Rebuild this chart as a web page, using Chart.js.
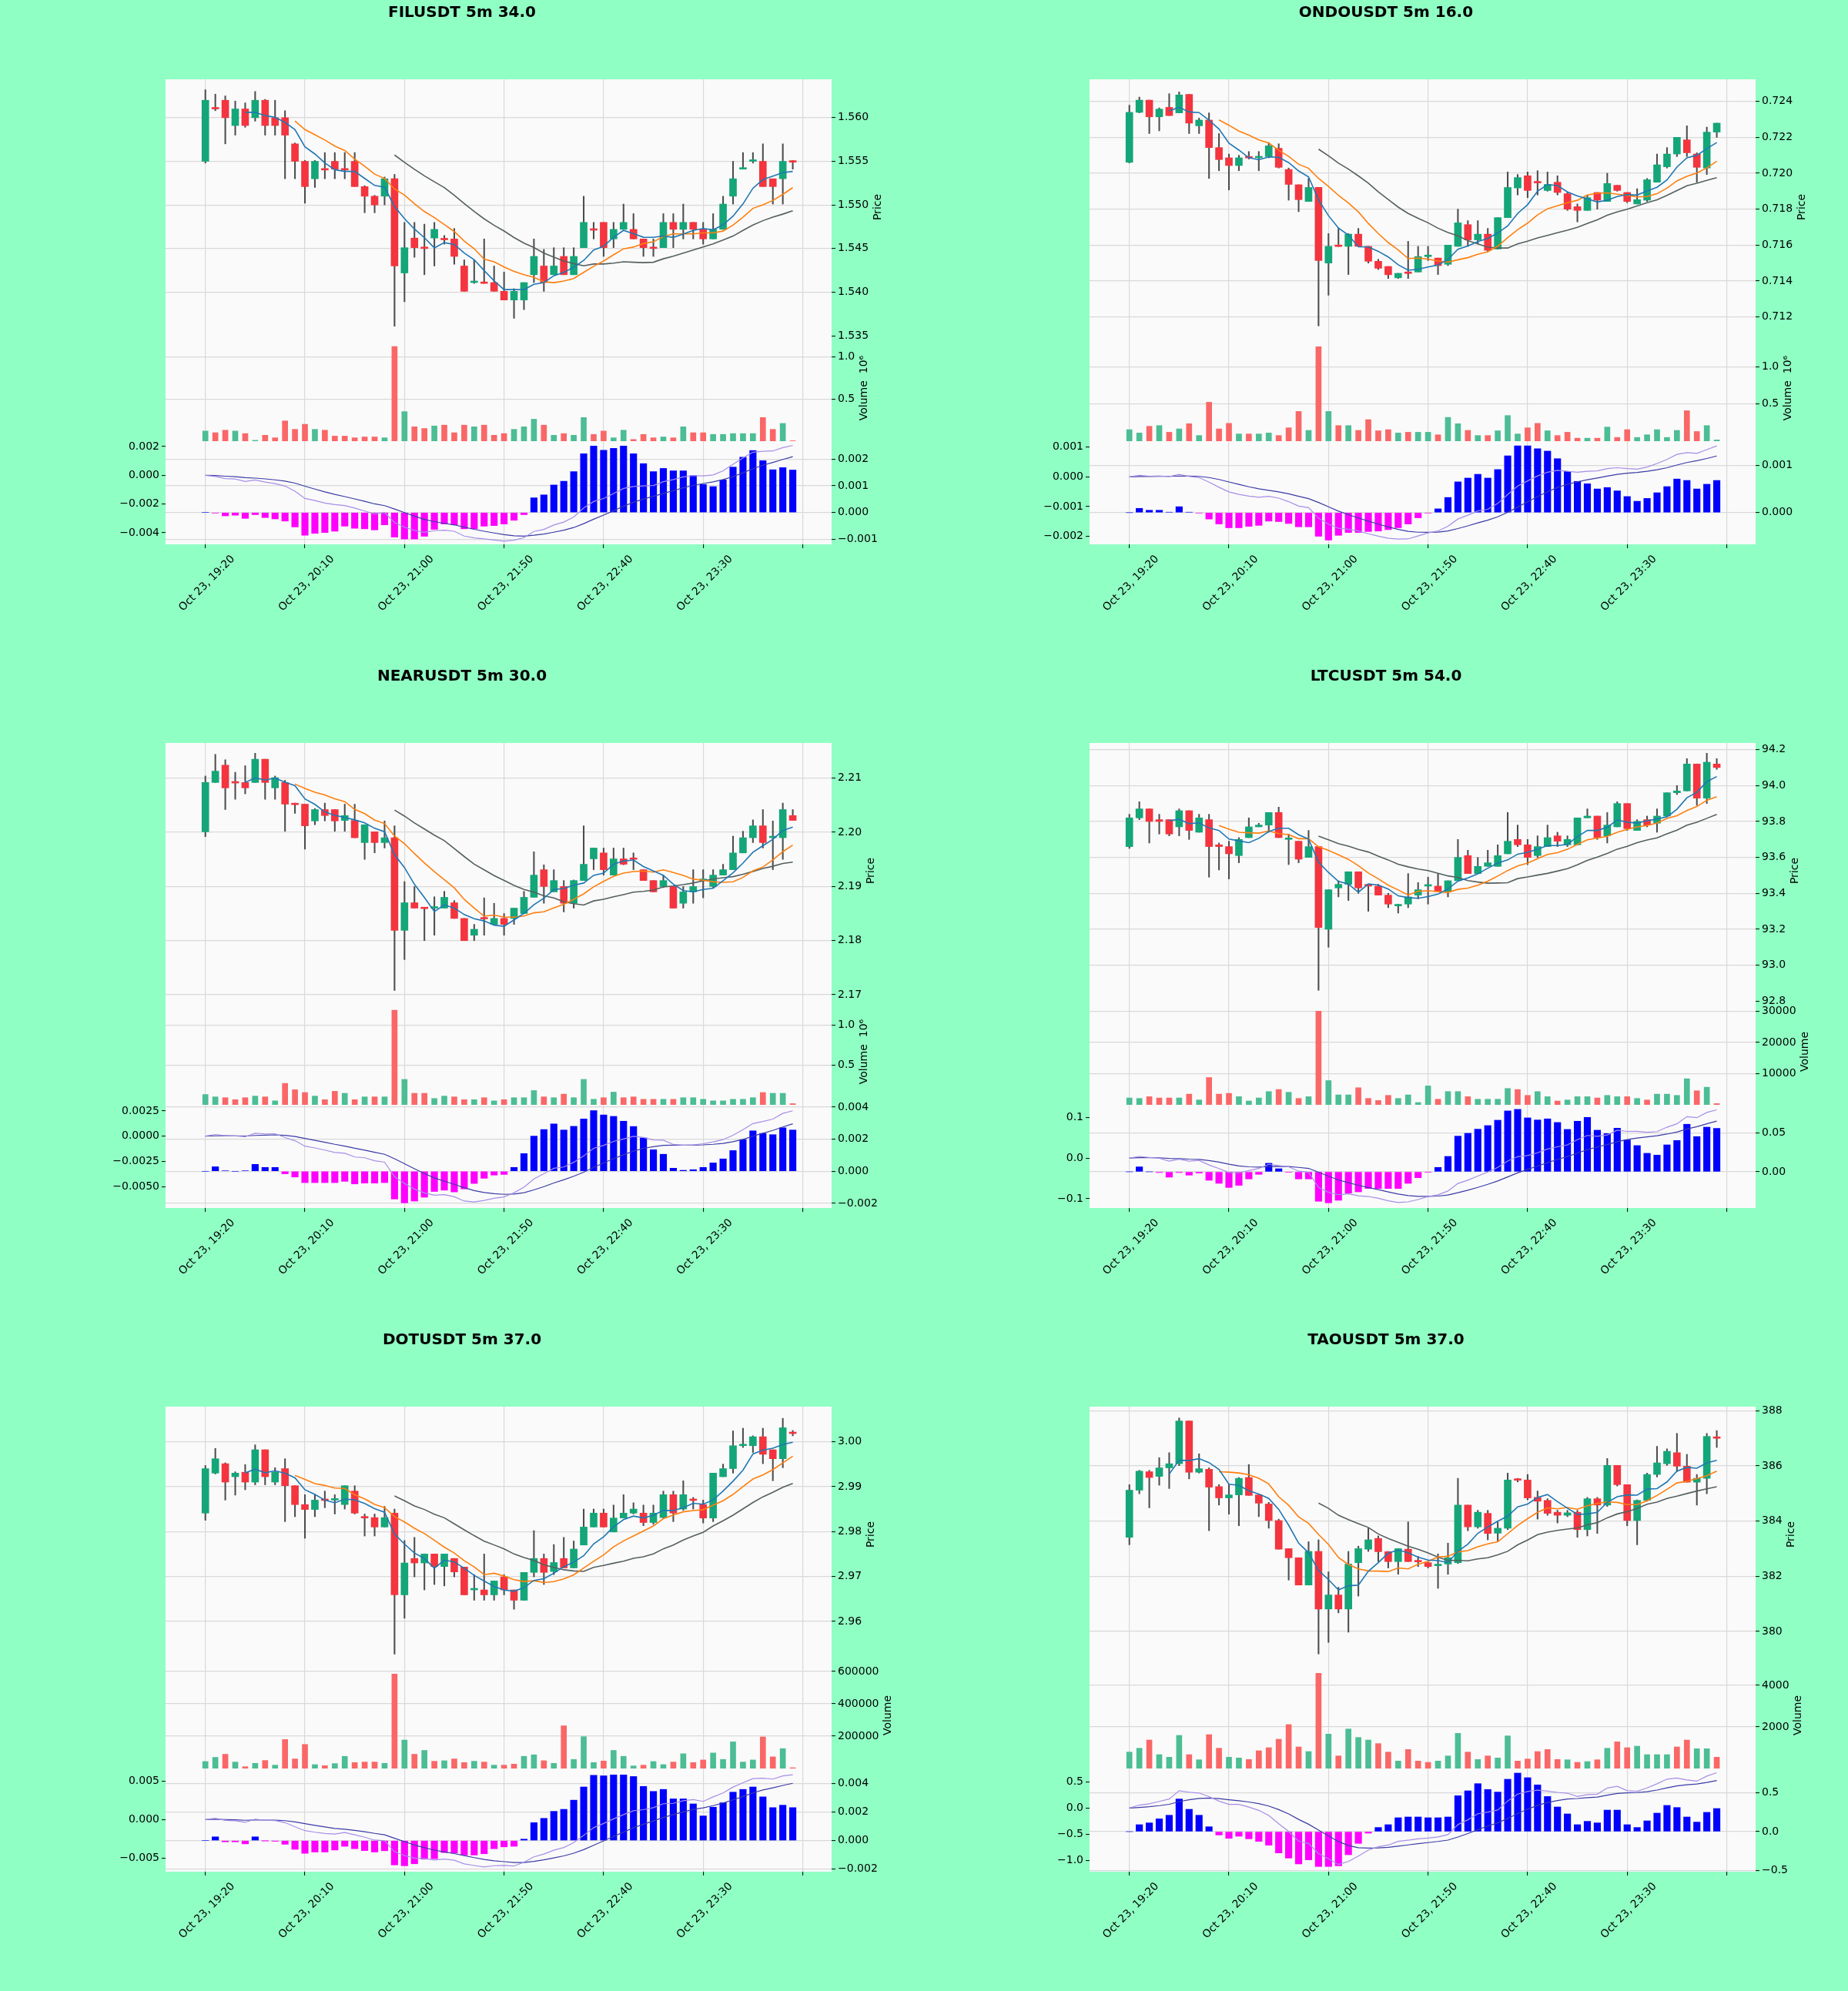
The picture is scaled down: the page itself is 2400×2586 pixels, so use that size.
<!DOCTYPE html>
<html>
<head>
<meta charset="utf-8">
<title>5m candles</title>
<script src="https://cdn.jsdelivr.net/npm/chart.js@4.4.1/dist/chart.umd.min.js"></script>
<style>
  html, body { margin: 0; padding: 0; background: #90ffc4; }
  #page { position: relative; width: 2400px; height: 2586px; overflow: hidden; background: #90ffc4; }
  #page canvas { position: absolute; }
</style>
</head>
<body>
<div id="page"></div>
<script>
const xTicks = [0, 10, 20, 30, 40, 50, 60];
const xTickLabels = ["Oct 23, 19:20", "Oct 23, 20:10", "Oct 23, 21:00", "Oct 23, 21:50", "Oct 23, 22:40", "Oct 23, 23:30", ""];

// FILUSDT
const filOpen = [1.5550,1.5611,1.5620,1.5591,1.5610,1.5600,1.5620,1.5600,1.5600,1.5570,1.5550,1.5530,1.5541,1.5550,1.5541,1.5550,1.5521,1.5510,1.5510,1.5530,1.5422,1.5462,1.5451,1.5462,1.5461,1.5461,1.5430,1.5411,1.5411,1.5411,1.5401,1.5391,1.5391,1.5420,1.5430,1.5420,1.5441,1.5420,1.5451,1.5472,1.5480,1.5461,1.5472,1.5472,1.5461,1.5451,1.5451,1.5480,1.5472,1.5480,1.5472,1.5461,1.5472,1.5510,1.5541,1.5550,1.5550,1.5530,1.5530,1.5550];
const filHigh = [1.5632,1.5627,1.5625,1.5619,1.5617,1.5630,1.5621,1.5620,1.5608,1.5571,1.5551,1.5551,1.5560,1.5560,1.5560,1.5560,1.5522,1.5511,1.5532,1.5535,1.5480,1.5480,1.5478,1.5480,1.5465,1.5473,1.5437,1.5437,1.5461,1.5430,1.5423,1.5404,1.5411,1.5461,1.5449,1.5451,1.5451,1.5451,1.5510,1.5480,1.5480,1.5480,1.5501,1.5490,1.5461,1.5461,1.5490,1.5490,1.5501,1.5480,1.5480,1.5490,1.5510,1.5550,1.5560,1.5560,1.5570,1.5530,1.5570,1.5551];
const filLow = [1.5548,1.5608,1.5570,1.5580,1.5589,1.5596,1.5580,1.5580,1.5530,1.5530,1.5502,1.5520,1.5530,1.5530,1.5530,1.5521,1.5491,1.5491,1.5500,1.5361,1.5389,1.5440,1.5420,1.5430,1.5455,1.5432,1.5401,1.5410,1.5410,1.5401,1.5391,1.5370,1.5380,1.5411,1.5401,1.5420,1.5420,1.5420,1.5451,1.5461,1.5441,1.5451,1.5472,1.5461,1.5441,1.5441,1.5451,1.5451,1.5461,1.5461,1.5455,1.5461,1.5472,1.5501,1.5541,1.5548,1.5521,1.5501,1.5501,1.5541];
const filClose = [1.5620,1.5610,1.5600,1.5610,1.5591,1.5620,1.5591,1.5591,1.5580,1.5550,1.5521,1.5550,1.5540,1.5541,1.5540,1.5521,1.5510,1.5500,1.5530,1.5430,1.5451,1.5451,1.5450,1.5472,1.5460,1.5441,1.5401,1.5412,1.5410,1.5401,1.5391,1.5401,1.5411,1.5441,1.5411,1.5430,1.5420,1.5441,1.5480,1.5471,1.5451,1.5472,1.5480,1.5461,1.5451,1.5450,1.5480,1.5472,1.5480,1.5472,1.5461,1.5472,1.5501,1.5530,1.5542,1.5551,1.5521,1.5521,1.5550,1.5549];
const filVolume = [120000,100000,130000,120000,90000,10000,70000,40000,240000,140000,200000,140000,130000,60000,60000,40000,50000,50000,40000,1120000,350000,170000,150000,180000,190000,100000,190000,170000,190000,70000,90000,140000,170000,260000,190000,70000,90000,70000,280000,80000,120000,40000,130000,20000,80000,40000,50000,40000,170000,100000,100000,80000,80000,90000,90000,90000,280000,140000,210000,5000];
const filHist = [0,-0.00002,-0.000125,-0.0001,-0.00022,-0.00008,-0.00019,-0.00024,-0.00032,-0.00054,-0.00085,-0.00078,-0.00075,-0.0007,-0.00051,-0.00059,-0.00061,-0.00065,-0.00046,-0.00092,-0.00099,-0.00099,-0.00089,-0.00063,-0.00043,-0.00046,-0.00061,-0.00061,-0.00051,-0.00049,-0.00043,-0.00029,-0.00008,0.00055,0.00066,0.00103,0.00117,0.00153,0.0022,0.00249,0.00233,0.0024,0.00249,0.0022,0.00183,0.00153,0.00165,0.00156,0.00156,0.00138,0.00105,0.00097,0.00122,0.0017,0.00207,0.00232,0.00194,0.0016,0.00168,0.00159];

// ONDOUSDT
const ondoOpen = [0.72061,0.72339,0.72407,0.72314,0.72367,0.72336,0.72439,0.72264,0.72296,0.72143,0.72086,0.72043,0.72086,0.72086,0.72093,0.72139,0.72021,0.71936,0.71843,0.71921,0.71500,0.71593,0.71593,0.71661,0.71593,0.71510,0.71481,0.71418,0.71443,0.71450,0.71536,0.71528,0.71493,0.71593,0.71714,0.71629,0.71661,0.71578,0.71753,0.71918,0.71986,0.71947,0.71904,0.71950,0.71886,0.71814,0.71793,0.71893,0.71843,0.71933,0.71893,0.71829,0.71850,0.71950,0.72036,0.72107,0.72186,0.72107,0.72029,0.72229];
const ondoHigh = [0.72379,0.72424,0.72407,0.72364,0.72443,0.72453,0.72439,0.72307,0.72336,0.72221,0.72107,0.72100,0.72121,0.72121,0.72171,0.72164,0.72029,0.71936,0.71971,0.71921,0.71664,0.71693,0.71664,0.71693,0.71593,0.71521,0.71481,0.71443,0.71621,0.71593,0.71593,0.71528,0.71600,0.71800,0.71736,0.71736,0.71693,0.71753,0.72007,0.71993,0.72007,0.72014,0.72007,0.71986,0.71893,0.71829,0.71879,0.71893,0.72000,0.71933,0.71893,0.71914,0.71971,0.72107,0.72143,0.72200,0.72264,0.72114,0.72257,0.72279];
const ondoLow = [0.72057,0.72336,0.72221,0.72236,0.72321,0.72336,0.72221,0.72221,0.71971,0.72014,0.71907,0.72014,0.72079,0.72014,0.72086,0.72029,0.71850,0.71786,0.71843,0.71150,0.71321,0.71593,0.71436,0.71593,0.71500,0.71464,0.71414,0.71414,0.71414,0.71450,0.71514,0.71436,0.71486,0.71593,0.71593,0.71607,0.71564,0.71578,0.71753,0.71879,0.71864,0.71879,0.71900,0.71879,0.71793,0.71729,0.71793,0.71800,0.71843,0.71900,0.71836,0.71829,0.71843,0.71950,0.72029,0.72093,0.72093,0.71950,0.71993,0.72200];
const ondoClose = [0.72339,0.72407,0.72314,0.72357,0.72321,0.72436,0.72279,0.72296,0.72143,0.72076,0.72043,0.72086,0.72085,0.72087,0.72153,0.72033,0.71938,0.71853,0.71921,0.71514,0.71593,0.71592,0.71661,0.71593,0.71510,0.71471,0.71435,0.71443,0.71442,0.71536,0.71537,0.71486,0.71600,0.71724,0.71629,0.71661,0.71571,0.71753,0.71921,0.71976,0.71904,0.71946,0.71938,0.71893,0.71800,0.71793,0.71864,0.71850,0.71943,0.71904,0.71843,0.71853,0.71964,0.72047,0.72107,0.72200,0.72114,0.72033,0.72229,0.72279];
const ondoVolume = [155000,110000,200000,210000,120000,165000,235000,76000,524000,165000,240000,97000,97000,97000,110000,76000,180000,400000,145000,1270000,400000,210000,210000,145000,290000,140000,155000,110000,120000,120000,120000,86000,320000,235000,145000,76000,76000,140000,345000,97000,180000,240000,140000,76000,120000,40000,40000,40000,190000,50000,155000,50000,86000,155000,50000,145000,410000,130000,210000,17000];
const ondoHist = [0,0.00009,0.00005,0.00005,0.00001,0.000125,0.00001,-0.00001,-0.000136,-0.00024,-0.00032,-0.00032,-0.00029,-0.00027,-0.00018,-0.00019,-0.00023,-0.0003,-0.0003,-0.0005,-0.00058,-0.00048,-0.00042,-0.00042,-0.0004,-0.00039,-0.00036,-0.00032,-0.00024,-0.00011,-0.00001,0.00008,0.00032,0.00065,0.00073,0.00081,0.00073,0.00091,0.0012,0.00141,0.00141,0.00135,0.0013,0.00114,0.00087,0.00066,0.00061,0.0005,0.00053,0.00046,0.00034,0.00024,0.0003,0.00042,0.00055,0.00071,0.00068,0.0005,0.0006,0.00068];

// NEARUSDT
const nearOpen = [2.2001,2.2092,2.2124,2.2092,2.2092,2.2092,2.2135,2.2082,2.2092,2.2052,2.2052,2.2021,2.2042,2.2042,2.2022,2.2022,2.1981,2.2001,2.1981,2.1990,2.1819,2.1870,2.1860,2.1860,2.1860,2.1870,2.1841,2.1810,2.1841,2.1830,2.1841,2.1841,2.1850,2.1880,2.1931,2.1890,2.1900,2.1869,2.1911,2.1951,2.1962,2.1921,2.1951,2.1951,2.1931,2.1911,2.1900,2.1900,2.1869,2.1890,2.1911,2.1900,2.1921,2.1931,2.1962,2.1990,2.2012,2.1990,2.1990,2.2031];
const nearHigh = [2.2104,2.2144,2.2134,2.2111,2.2123,2.2146,2.2135,2.2104,2.2096,2.2054,2.2052,2.2044,2.2054,2.2042,2.2052,2.2052,2.2014,2.2001,2.2021,2.2012,2.1909,2.1900,2.1860,2.1881,2.1891,2.1874,2.1841,2.1830,2.1879,2.1869,2.1850,2.1860,2.1891,2.1964,2.1940,2.1931,2.1911,2.1912,2.2012,2.1971,2.1971,2.1971,2.1971,2.1962,2.1931,2.1911,2.1921,2.1900,2.1900,2.1931,2.1931,2.1931,2.1941,2.1993,2.2002,2.2023,2.2042,2.2021,2.2054,2.2042];
const nearLow = [2.1992,2.2092,2.2042,2.2061,2.2071,2.2092,2.2061,2.2061,2.2002,2.2035,2.1969,2.2014,2.2021,2.2002,2.2002,2.1990,2.1950,2.1962,2.1971,2.1708,2.1765,2.1860,2.1800,2.1810,2.1860,2.1841,2.1800,2.1800,2.1810,2.1830,2.1810,2.1830,2.1850,2.1880,2.1869,2.1890,2.1853,2.1860,2.1911,2.1931,2.1921,2.1921,2.1940,2.1931,2.1911,2.1890,2.1898,2.1860,2.1860,2.1869,2.1879,2.1898,2.1921,2.1931,2.1962,2.1981,2.1971,2.1931,2.1950,2.2022];
const nearClose = [2.2092,2.2113,2.2082,2.2091,2.2082,2.2135,2.2092,2.2101,2.2052,2.2051,2.2012,2.2042,2.2031,2.2021,2.2031,2.1990,2.2014,2.1981,2.1990,2.1819,2.1870,2.1860,2.1859,2.1861,2.1880,2.1841,2.1800,2.1821,2.1840,2.1841,2.1830,2.1860,2.1880,2.1921,2.1900,2.1911,2.1869,2.1911,2.1941,2.1971,2.1931,2.1951,2.1941,2.1950,2.1911,2.1890,2.1911,2.1860,2.1890,2.1900,2.1912,2.1921,2.1931,2.1962,2.1990,2.2012,2.1981,2.1991,2.2042,2.2022];
const nearVolume = [130000,100000,90000,65000,90000,110000,100000,50000,270000,190000,155000,110000,65000,170000,145000,65000,100000,100000,100000,1190000,320000,145000,145000,80000,110000,100000,65000,65000,90000,50000,65000,90000,90000,180000,100000,90000,135000,90000,320000,70000,90000,160000,90000,100000,70000,70000,70000,70000,90000,90000,70000,50000,50000,70000,70000,90000,155000,145000,145000,15000];
const nearHist = [0,0.00028,0.00003,0,0.00003,0.00043,0.00024,0.00024,-0.00016,-0.00036,-0.00071,-0.00071,-0.00071,-0.00071,-0.00063,-0.00079,-0.00074,-0.00074,-0.00071,-0.00173,-0.00197,-0.00186,-0.00162,-0.00126,-0.00118,-0.00129,-0.0011,-0.00076,-0.00044,-0.00024,-0.0002,0.00024,0.0011,0.00219,0.0026,0.00295,0.00257,0.0028,0.00326,0.00378,0.00351,0.00342,0.00312,0.00279,0.00208,0.00134,0.00106,0.00019,0.00006,0.0001,0.00024,0.00052,0.00077,0.00129,0.00197,0.00252,0.00236,0.00228,0.00271,0.00257];

// LTCUSDT
const ltcOpen = [93.66,93.82,93.87,93.81,93.81,93.77,93.86,93.74,93.81,93.67,93.66,93.61,93.71,93.77,93.78,93.85,93.70,93.69,93.60,93.66,93.20,93.43,93.45,93.52,93.45,93.44,93.39,93.33,93.34,93.39,93.44,93.44,93.41,93.47,93.61,93.51,93.55,93.55,93.62,93.70,93.67,93.61,93.66,93.72,93.67,93.67,93.82,93.83,93.72,93.77,93.90,93.75,93.81,93.79,93.83,93.96,93.97,94.12,93.93,94.12];
const ltcHigh = [93.84,93.91,93.87,93.84,93.81,93.87,93.86,93.84,93.84,93.68,93.69,93.71,93.82,93.79,93.85,93.88,93.73,93.69,93.75,93.66,93.42,93.47,93.52,93.52,93.45,93.45,93.40,93.34,93.51,93.46,93.49,93.51,93.47,93.70,93.64,93.60,93.64,93.67,93.85,93.78,93.70,93.72,93.78,93.74,93.72,93.82,93.87,93.83,93.85,93.91,93.90,93.81,93.83,93.87,93.96,94.00,94.15,94.12,94.18,94.15];
const ltcLow = [93.65,93.81,93.68,93.73,93.72,93.72,93.70,93.74,93.49,93.53,93.48,93.57,93.71,93.77,93.74,93.71,93.56,93.57,93.60,92.86,93.10,93.38,93.36,93.40,93.30,93.39,93.32,93.29,93.32,93.37,93.34,93.41,93.38,93.47,93.51,93.51,93.55,93.55,93.62,93.66,93.56,93.60,93.66,93.66,93.66,93.67,93.82,93.70,93.68,93.77,93.75,93.75,93.77,93.74,93.83,93.95,93.97,93.89,93.90,94.09];
const ltcClose = [93.82,93.87,93.80,93.80,93.73,93.86,93.75,93.82,93.66,93.66,93.62,93.70,93.77,93.78,93.85,93.71,93.70,93.59,93.66,93.21,93.42,93.45,93.52,93.43,93.44,93.39,93.34,93.33,93.38,93.42,93.44,93.41,93.47,93.60,93.51,93.55,93.57,93.61,93.69,93.67,93.60,93.66,93.71,93.69,93.70,93.82,93.83,93.71,93.78,93.90,93.76,93.80,93.78,93.83,93.96,93.97,94.12,93.93,94.13,94.10];
const ltcVolume = [2210,2050,2620,2210,2210,2210,3440,1560,8770,3440,3690,2620,1230,2210,4260,4920,4020,2050,2620,30080,7790,3200,3200,5490,2050,1390,3030,2050,3200,740,6070,1800,4260,4260,2620,1800,1800,1800,5250,4920,3030,4260,2620,1230,1560,2620,2620,2210,3030,2620,2620,2050,1560,3440,3440,3030,8360,4510,5660,400];
const ltcHist = [0,0.0063,0,-0.001,-0.0069,-0.001,-0.0043,-0.0016,-0.0109,-0.0148,-0.0201,-0.0174,-0.0092,-0.0033,0.0109,0.0039,-0.0005,-0.0092,-0.0092,-0.0378,-0.0398,-0.0365,-0.0273,-0.0257,-0.0214,-0.0214,-0.0214,-0.0214,-0.0148,-0.0076,-0.0005,0.0056,0.0197,0.0457,0.0493,0.0546,0.0592,0.0661,0.078,0.08,0.0691,0.0664,0.0678,0.0632,0.0543,0.0648,0.0697,0.0533,0.049,0.0559,0.0408,0.0336,0.0237,0.0214,0.0345,0.0401,0.0609,0.0451,0.0572,0.0556];

// DOTUSDT
const dotOpen = [2.9841,2.9930,2.9951,2.9922,2.9932,2.9910,2.9982,2.9910,2.9940,2.9902,2.9860,2.9849,2.9870,2.9870,2.9860,2.9890,2.9831,2.9831,2.9810,2.9841,2.9659,2.9740,2.9730,2.9750,2.9722,2.9740,2.9721,2.9670,2.9670,2.9659,2.9699,2.9670,2.9647,2.9709,2.9740,2.9711,2.9740,2.9719,2.9770,2.9810,2.9841,2.9799,2.9830,2.9841,2.9841,2.9820,2.9831,2.9882,2.9850,2.9870,2.9860,2.9830,2.9922,2.9940,2.9991,2.9991,3.0011,2.9982,2.9962,3.0019];
const dotHigh = [2.9947,2.9985,2.9953,2.9933,2.9949,2.9993,2.9982,2.9942,2.9962,2.9902,2.9882,2.9882,2.9890,2.9882,2.9902,2.9902,2.9839,2.9839,2.9856,2.9850,2.9780,2.9787,2.9750,2.9750,2.9750,2.9740,2.9721,2.9704,2.9750,2.9690,2.9704,2.9670,2.9709,2.9802,2.9750,2.9771,2.9787,2.9779,2.9850,2.9850,2.9850,2.9859,2.9882,2.9864,2.9859,2.9859,2.9890,2.9890,2.9913,2.9876,2.9870,2.9930,2.9950,3.0024,3.0030,3.0013,3.0030,2.9982,3.0052,3.0025];
const dotLow = [2.9825,2.9928,2.9870,2.9881,2.9893,2.9904,2.9904,2.9904,2.9822,2.9833,2.9785,2.9833,2.9853,2.9839,2.9850,2.9839,2.9790,2.9790,2.9810,2.9527,2.9607,2.9699,2.9670,2.9682,2.9679,2.9699,2.9659,2.9647,2.9647,2.9647,2.9659,2.9627,2.9647,2.9699,2.9682,2.9704,2.9719,2.9719,2.9770,2.9810,2.9810,2.9799,2.9830,2.9839,2.9813,2.9816,2.9830,2.9822,2.9847,2.9850,2.9819,2.9822,2.9922,2.9930,2.9987,2.9976,2.9951,2.9913,2.9942,3.0013];
const dotClose = [2.9940,2.9962,2.9910,2.9930,2.9910,2.9982,2.9922,2.9932,2.9902,2.9860,2.9849,2.9870,2.9869,2.9871,2.9902,2.9841,2.9830,2.9810,2.9831,2.9659,2.9730,2.9730,2.9750,2.9722,2.9750,2.9710,2.9659,2.9671,2.9659,2.9690,2.9670,2.9647,2.9709,2.9740,2.9709,2.9731,2.9719,2.9761,2.9810,2.9841,2.9810,2.9830,2.9841,2.9850,2.9820,2.9841,2.9882,2.9841,2.9882,2.9869,2.9830,2.9930,2.9940,2.9991,2.9992,3.0011,2.9972,2.9962,3.0031,3.0018];
const dotVolume = [43200,68800,88000,40000,11200,32000,49600,20800,179200,59200,148800,24000,17600,30400,75200,36800,40000,40000,32000,584000,176000,88000,112000,44800,48000,59200,36800,44800,40000,20800,20800,27200,75200,84800,48000,32000,264000,56000,196800,36800,46400,112000,75200,16000,20800,43200,24000,40000,91200,36800,52800,96000,56000,164800,40000,52800,195200,72000,123200,4800];
const dotHist = [0,0.00026,-0.00009,-0.00009,-0.00023,0.00026,-0.00001,-0.00005,-0.00026,-0.00061,-0.00089,-0.0008,-0.0008,-0.00066,-0.0004,-0.00057,-0.0007,-0.0008,-0.00071,-0.0017,-0.00176,-0.00162,-0.0013,-0.00127,-0.00084,-0.00087,-0.00101,-0.00101,-0.00092,-0.00057,-0.00044,-0.0004,0.0001,0.00125,0.00155,0.00204,0.00218,0.00282,0.00374,0.00456,0.00452,0.00458,0.00458,0.00447,0.00378,0.00343,0.00357,0.00291,0.00291,0.00256,0.00172,0.00233,0.00264,0.00338,0.00357,0.00374,0.00305,0.0023,0.00247,0.0023];

// TAOUSDT
const taoOpen = [383.41,385.12,385.79,385.62,385.93,386.08,387.63,385.77,385.88,385.25,384.84,384.95,385.58,384.95,384.62,384.02,383.00,382.67,381.68,382.90,380.81,381.32,380.81,382.49,382.98,383.37,382.89,382.53,382.98,382.53,382.49,382.38,382.44,382.49,384.58,383.79,384.28,383.56,383.74,385.50,385.49,384.86,384.75,384.32,384.21,384.32,383.69,384.81,384.58,386.02,385.32,384.02,384.75,385.69,386.08,386.48,385.99,385.41,385.55,387.04];
const taoHigh = [385.32,385.84,385.84,386.30,386.48,387.74,387.63,386.44,385.93,385.32,385.32,385.58,386.05,384.95,384.68,384.07,383.00,382.67,383.25,383.32,382.16,381.60,382.90,383.09,383.74,383.46,382.90,383.00,383.97,382.72,382.53,382.81,383.20,385.55,384.58,384.39,384.39,383.97,385.74,385.55,385.69,385.09,384.81,384.39,384.39,384.39,384.86,384.86,386.27,386.02,385.32,384.77,385.74,386.71,386.62,387.18,386.42,385.69,387.18,387.28];
const taoLow = [383.14,384.99,384.48,385.30,385.18,386.01,385.53,385.74,383.65,384.58,384.25,383.83,384.93,384.16,383.74,382.98,381.86,381.68,381.68,379.18,379.60,380.67,379.97,381.28,382.90,382.53,382.30,382.07,382.53,382.35,382.30,381.56,382.07,382.46,383.65,383.74,383.32,383.28,383.69,385.42,384.77,384.07,384.21,383.93,384.16,383.41,383.46,383.55,384.53,385.27,383.83,383.14,384.72,385.60,386.02,385.79,385.41,384.58,384.99,386.67];
const taoClose = [385.12,385.81,385.58,385.93,386.08,387.63,385.77,385.90,385.23,384.84,384.95,385.55,384.93,384.65,384.02,382.98,382.67,381.68,382.90,380.81,381.32,380.81,382.44,383.00,383.32,382.89,382.53,383.00,382.53,382.52,382.35,382.42,382.67,384.58,383.79,384.32,383.55,383.74,385.49,385.48,384.84,384.72,384.28,384.21,384.30,383.69,384.81,384.58,386.02,385.32,384.02,384.75,385.69,386.11,386.53,385.99,385.41,385.55,387.07,387.00];
const taoVolume = [790,975,1370,667,543,1593,667,420,1630,975,543,506,432,852,1000,1408,2112,1037,815,4582,1655,605,1900,1494,1370,1198,790,358,914,358,296,358,605,1692,790,432,605,506,1568,358,457,815,914,432,420,296,333,420,975,1284,1000,1074,667,667,667,1037,1370,951,951,543];
const taoHist = [0,0.089,0.112,0.164,0.21,0.418,0.286,0.21,0.0625,-0.043,-0.086,-0.059,-0.092,-0.125,-0.174,-0.273,-0.339,-0.414,-0.362,-0.447,-0.447,-0.438,-0.296,-0.151,-0.02,0.053,0.089,0.178,0.1875,0.1875,0.178,0.178,0.1875,0.46,0.523,0.615,0.54,0.507,0.671,0.75,0.691,0.599,0.45,0.316,0.227,0.089,0.132,0.112,0.276,0.276,0.089,0.053,0.138,0.237,0.336,0.309,0.1875,0.122,0.247,0.296];

const fixed = d => v => (v < -1e-12 ? "\u2212" : "") + Math.abs(v).toFixed(d);
const millions = v => (v / 1e6).toFixed(1);

const panels = [
  { title: "FILUSDT 5m 34.0", open: filOpen, high: filHigh, low: filLow, close: filClose, volume: filVolume, hist: filHist,
    priceMin: 1.5351, priceMax: 1.5644, priceTicks: [1.535, 1.540, 1.545, 1.550, 1.555, 1.560], priceFmt: fixed(3),
    volMax: 1.258e6, volTicks: [500000, 1000000], volFmt: millions, volLabel: "Volume  10\u2076",
    macdMin: -0.0048, macdMax: 0.00238, macdTicks: [-0.004, -0.002, 0, 0.002], macdFmt: fixed(3),
    histMin: -0.00119, histMax: 0.00267, histTicks: [-0.001, 0, 0.001, 0.002], histFmt: fixed(3) },
  { title: "ONDOUSDT 5m 16.0", open: ondoOpen, high: ondoHigh, low: ondoLow, close: ondoClose, volume: ondoVolume, hist: ondoHist,
    priceMin: 0.7110, priceMax: 0.72523, priceTicks: [0.712, 0.714, 0.716, 0.718, 0.720, 0.722, 0.724], priceFmt: fixed(3),
    volMax: 1.43e6, volTicks: [500000, 1000000], volFmt: millions, volLabel: "Volume  10\u2076",
    macdMin: -0.00227, macdMax: 0.0012, macdTicks: [-0.002, -0.001, 0, 0.001], macdFmt: fixed(3),
    histMin: -0.00067, histMax: 0.00151, histTicks: [0, 0.001], histFmt: fixed(3) },
  { title: "NEARUSDT 5m 30.0", open: nearOpen, high: nearHigh, low: nearLow, close: nearClose, volume: nearVolume, hist: nearHist,
    priceMin: 2.1693, priceMax: 2.2165, priceTicks: [2.17, 2.18, 2.19, 2.20, 2.21], priceFmt: fixed(2),
    volMax: 1.336e6, volTicks: [500000, 1000000], volFmt: millions, volLabel: "Volume  10\u2076",
    macdMin: -0.00713, macdMax: 0.00311, macdTicks: [-0.005, -0.0025, 0, 0.0025], macdFmt: fixed(4),
    histMin: -0.00229, histMax: 0.00414, histTicks: [-0.002, 0, 0.002, 0.004], histFmt: fixed(3) },
  { title: "LTCUSDT 5m 54.0", open: ltcOpen, high: ltcHigh, low: ltcLow, close: ltcClose, volume: ltcVolume, hist: ltcHist,
    priceMin: 92.814, priceMax: 94.237, priceTicks: [92.8, 93.0, 93.2, 93.4, 93.6, 93.8, 94.0, 94.2], priceFmt: fixed(1),
    volMax: 34100, volTicks: [10000, 20000, 30000], volFmt: fixed(0), volLabel: "Volume",
    macdMin: -0.123, macdMax: 0.131, macdTicks: [-0.1, 0, 0.1], macdFmt: fixed(1),
    histMin: -0.0464, histMax: 0.0858, histTicks: [0, 0.05], histFmt: fixed(2) },
  { title: "DOTUSDT 5m 37.0", open: dotOpen, high: dotHigh, low: dotLow, close: dotClose, volume: dotVolume, hist: dotHist,
    priceMin: 2.9509, priceMax: 3.0078, priceTicks: [2.96, 2.97, 2.98, 2.99, 3.00], priceFmt: fixed(2),
    volMax: 657000, volTicks: [200000, 400000, 600000], volFmt: fixed(0), volLabel: "Volume",
    macdMin: -0.00677, macdMax: 0.00663, macdTicks: [-0.005, 0, 0.005], macdFmt: fixed(3),
    histMin: -0.00217, histMax: 0.00503, histTicks: [-0.002, 0, 0.002, 0.004], histFmt: fixed(3) },
  { title: "TAOUSDT 5m 37.0", open: taoOpen, high: taoHigh, low: taoLow, close: taoClose, volume: taoVolume, hist: taoHist,
    priceMin: 378.88, priceMax: 388.15, priceTicks: [380, 382, 384, 386, 388], priceFmt: fixed(0),
    volMax: 5111, volTicks: [2000, 4000], volFmt: fixed(0), volLabel: "Volume",
    macdMin: -1.216, macdMax: 0.754, macdTicks: [-1, -0.5, 0, 0.5], macdFmt: fixed(1),
    histMin: -0.513, histMax: 0.809, histTicks: [-0.5, 0, 0.5], histFmt: fixed(1) }
];

// look
const AREA_BG = "#fafafa", GRID = "#d9d9d9";
const UP = "#14a678", DOWN = "#f4343e", WICK = "#4d4d4d";
const VOL_UP = "#4cbd94", VOL_DOWN = "#fa6767";
const HIST_UP = "#0000ff", HIST_DOWN = "#ff00ff";
const MA_COLORS = ["#1f77b4", "#ff7f0e", "#566060"];
const MACD_COLOR = "#a68ee6", SIGNAL_COLOR = "#3b3ba6";

// layout, px inside one 1200 x 862 cell
const CELL_W = 1200, CELL_H = 862;
const PLOT_L = 215, PLOT_R = 1080;
const PRICE_T = 103, PRICE_B = 435, VOL_B = 573, MACD_B = 707;
const PAD = 24;
const X_MIN = -4, X_MAX = 62.9;

Chart.defaults.font.family = '"DejaVu Sans", sans-serif';
Chart.defaults.color = "#000";

const areaFill = {
  id: "areaFill",
  beforeDraw(chart) {
    const a = chart.chartArea, ctx = chart.ctx;
    ctx.save();
    ctx.fillStyle = AREA_BG;
    ctx.fillRect(a.left, a.top, a.right - a.left, a.bottom - a.top);
    ctx.restore();
  }
};

// matplotlib style right-hand label, read bottom to top
const sideLabel = {
  id: "sideLabel",
  afterDraw(chart, args, opts) {
    if (!opts.text) return;
    const ctx = chart.ctx, a = chart.chartArea, scale = chart.scales.y;
    ctx.save();
    ctx.font = '14px "DejaVu Sans"';
    const widest = Math.max(...scale.ticks.map(t => ctx.measureText(String(t.label)).width));
    ctx.translate(a.right + 8 + widest + 12, (a.top + a.bottom) / 2);
    ctx.rotate(-Math.PI / 2);
    ctx.textAlign = "center";
    ctx.textBaseline = "middle";
    ctx.fillStyle = "#000";
    ctx.fillText(opts.text, 0, 0);
    ctx.restore();
  }
};

const panelTitle = {
  id: "panelTitle",
  afterDraw(chart, args, opts) {
    if (!opts.text) return;
    const ctx = chart.ctx;
    ctx.save();
    ctx.font = 'bold 20px "DejaVu Sans"';
    ctx.fillStyle = "#000";
    ctx.textAlign = "center";
    ctx.textBaseline = "middle";
    ctx.fillText(opts.text, chart.width / 2, 17);
    ctx.restore();
  }
};

function sma(values, n) {
  return values.map((v, i) => i < n - 1 ? null : values.slice(i - n + 1, i + 1).reduce((s, x) => s + x, 0) / n);
}

function ema(values, span) {
  const a = 2 / (span + 1), out = [];
  values.forEach((v, i) => out.push(i === 0 ? v : a * v + (1 - a) * out[i - 1]));
  return out;
}

const points = arr => arr.map((y, i) => ({ x: i, y })).filter(d => d.y !== null);

function line(values, color, width, axis) {
  return { type: "line", data: points(values), borderColor: color, borderWidth: width, pointRadius: 0,
           fill: false, tension: 0, order: 0, yAxisID: axis || "y" };
}

function xAxis(showLabels) {
  return {
    type: "linear", min: X_MIN, max: X_MAX, offset: false,
    afterBuildTicks: s => { s.ticks = xTicks.map(v => ({ value: v })); },
    ticks: showLabels
      ? { display: true, autoSkip: false, minRotation: 45, maxRotation: 45, labelOffset: 36, padding: 6,
          color: "#000", font: { size: 14 }, callback: (v, i) => xTickLabels[i] }
      : { display: false },
    grid: { color: GRID, lineWidth: 1.2, offset: false, drawTicks: showLabels, tickLength: 5, tickColor: "#000", tickWidth: 1 },
    border: { display: false },
    afterFit: s => { s.height = showLabels ? CELL_H - MACD_B : 0; }
  };
}

function yAxis(position, min, max, ticks, fmt, drawGrid, width) {
  return {
    type: "linear", position, min, max, beginAtZero: false,
    afterBuildTicks: s => { s.ticks = ticks.map(v => ({ value: v })); },
    ticks: { autoSkip: false, color: "#000", font: { size: 14 }, padding: 3, callback: v => fmt(v) },
    grid: { color: GRID, lineWidth: 1.2, drawOnChartArea: drawGrid, tickLength: 5, tickColor: "#000", tickWidth: 1 },
    border: { display: false },
    afterFit: s => { s.width = width; }
  };
}

function options(padding, scales, plugins) {
  return {
    responsive: false, maintainAspectRatio: false, animation: false, devicePixelRatio: 1, events: [],
    layout: { padding },
    scales,
    plugins: Object.assign({ legend: { display: false }, tooltip: { enabled: false } }, plugins)
  };
}

function addCanvas(left, top, width, height) {
  const c = document.createElement("canvas");
  c.width = width;
  c.height = height;
  c.style.left = left + "px";
  c.style.top = top + "px";
  c.style.width = width + "px";
  c.style.height = height + "px";
  document.getElementById("page").appendChild(c);
  return c;
}

function buildPanel(p, col, row) {
  const cx = col * CELL_W, cy = row * CELL_H;
  const rising = p.close.map((c, i) => c >= p.open[i]);
  const bodies = p.open.map((o, i) => ({ x: i, y: [o, p.close[i]] }));
  const wicks = p.open.map((o, i) => ({ x: i, y: [Math.min(p.low[i], o, p.close[i]), Math.max(p.high[i], o, p.close[i])] }));
  const rightW = CELL_W - PLOT_R;

  new Chart(addCanvas(cx, cy, CELL_W, PRICE_B + PAD), {
    type: "bar",
    data: { datasets: [
      line(sma(p.close, 5), MA_COLORS[0], 1.6),
      line(sma(p.close, 10), MA_COLORS[1], 1.6),
      line(sma(p.close, 20), MA_COLORS[2], 1.6),
      { data: bodies, backgroundColor: rising.map(r => r ? UP : DOWN), barThickness: 9, minBarLength: 2, grouped: false, order: 1 },
      { data: wicks, backgroundColor: WICK, barThickness: 1.4, grouped: false, order: 2 }
    ] },
    options: options({ left: PLOT_L, right: 0, top: PRICE_T, bottom: PAD },
      { x: xAxis(false), y: yAxis("right", p.priceMin, p.priceMax, p.priceTicks, p.priceFmt, true, rightW) },
      { panelTitle: { text: p.title }, sideLabel: { text: "Price" } }),
    plugins: [areaFill, panelTitle, sideLabel]
  });

  new Chart(addCanvas(cx, cy + PRICE_B - PAD, CELL_W, VOL_B - PRICE_B + 2 * PAD), {
    type: "bar",
    data: { datasets: [
      { data: points(p.volume), backgroundColor: rising.map(r => r ? VOL_UP : VOL_DOWN), barThickness: 7, grouped: false }
    ] },
    options: options({ left: PLOT_L, right: 0, top: PAD, bottom: PAD },
      { x: xAxis(false), y: yAxis("right", 0, p.volMax, p.volTicks, p.volFmt, true, rightW) },
      { sideLabel: { text: p.volLabel } }),
    plugins: [areaFill, sideLabel]
  });

  const dif = ema(p.close, 12).map((v, i) => v - ema(p.close, 26)[i]);
  const dea = ema(dif, 9);
  new Chart(addCanvas(cx, cy + VOL_B - PAD, CELL_W, CELL_H - VOL_B + PAD), {
    type: "bar",
    data: { datasets: [
      line(dif, MACD_COLOR, 1.2),
      line(dea, SIGNAL_COLOR, 1.2),
      { data: points(p.hist), yAxisID: "y2", backgroundColor: p.hist.map(h => h >= 0 ? HIST_UP : HIST_DOWN),
        barThickness: 8.5, grouped: false, order: 1 }
    ] },
    options: options({ left: 0, right: 0, top: PAD, bottom: 0 },
      { x: xAxis(true),
        y: yAxis("left", p.macdMin, p.macdMax, p.macdTicks, p.macdFmt, false, PLOT_L),
        y2: yAxis("right", p.histMin, p.histMax, p.histTicks, p.histFmt, true, rightW) },
      {}),
    plugins: [areaFill]
  });
}

panels.forEach((p, k) => buildPanel(p, k % 2, Math.floor(k / 2)));
</script>
</body>
</html>
